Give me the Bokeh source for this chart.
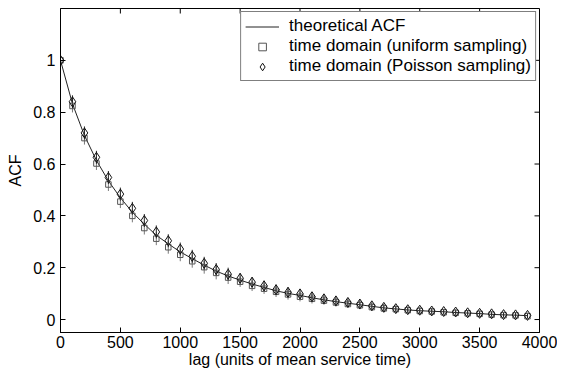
import math
from bokeh.plotting import figure
from bokeh.models import FixedTicker, Legend, LegendItem, ColumnDataSource
from bokeh.embed import file_html
from bokeh.resources import INLINE

# ---- data ----
lags = [0, 100, 200, 300, 400, 500, 600, 700, 800, 900,
        1000, 1100, 1200, 1300, 1400, 1500, 1600, 1700, 1800, 1900,
        2000, 2100, 2200, 2300, 2400, 2500, 2600, 2700, 2800, 2900,
        3000, 3100, 3200, 3300, 3400, 3500, 3600, 3700, 3800, 3900]

acf_theory = [1.0, 0.832, 0.71, 0.614, 0.535, 0.47, 0.414, 0.368, 0.325, 0.292,
              0.261, 0.235, 0.21, 0.187, 0.168, 0.152, 0.137, 0.124, 0.111, 0.101,
              0.093, 0.084, 0.076, 0.069, 0.063, 0.057, 0.051, 0.045, 0.041, 0.037,
              0.034, 0.032, 0.030, 0.027, 0.025, 0.023, 0.020, 0.018, 0.017, 0.015]

acf_uniform = [1.0, 0.824, 0.70, 0.602, 0.521, 0.455, 0.40, 0.353, 0.312, 0.279,
               0.250, 0.225, 0.202, 0.180, 0.162, 0.146, 0.130, 0.119, 0.107, 0.097,
               0.088, 0.080, 0.073, 0.066, 0.060, 0.055, 0.048, 0.043, 0.040, 0.036,
               0.033, 0.031, 0.028, 0.026, 0.024, 0.022, 0.019, 0.017, 0.016, 0.013]

acf_poisson = [1.0, 0.84, 0.72, 0.626, 0.548, 0.484, 0.429, 0.382, 0.338, 0.304,
               0.272, 0.244, 0.217, 0.193, 0.175, 0.159, 0.144, 0.130, 0.115, 0.105,
               0.099, 0.088, 0.080, 0.072, 0.066, 0.060, 0.053, 0.047, 0.042, 0.038,
               0.036, 0.033, 0.031, 0.029, 0.026, 0.024, 0.022, 0.019, 0.018, 0.016]

err_uniform = [0.0, 0.025, 0.025, 0.025, 0.025, 0.025, 0.025, 0.025, 0.025, 0.025,
               0.025, 0.025, 0.025, 0.025, 0.025, 0.02, 0.02, 0.02, 0.02, 0.02,
               0.018, 0.018, 0.016, 0.016, 0.015, 0.015, 0.013, 0.013, 0.012, 0.012,
               0.011, 0.011, 0.01, 0.01, 0.01, 0.01, 0.01, 0.01, 0.01, 0.01]

err_poisson = [0.0, 0.025, 0.025, 0.025, 0.025, 0.025, 0.025, 0.025, 0.025, 0.025,
               0.025, 0.025, 0.025, 0.025, 0.025, 0.02, 0.02, 0.02, 0.02, 0.02,
               0.018, 0.018, 0.016, 0.016, 0.015, 0.015, 0.013, 0.013, 0.012, 0.012,
               0.011, 0.011, 0.01, 0.01, 0.01, 0.01, 0.01, 0.01, 0.01, 0.01]

x_min, x_max = 0, 4000
y_min, y_max = -0.05, 1.2
x_ticks = [0, 500, 1000, 1500, 2000, 2500, 3000, 3500, 4000]
y_ticks = [0, 0.2, 0.4, 0.6, 0.8, 1]
y_labels = {0: "0", 0.2: "0.2", 0.4: "0.4", 0.6: "0.6", 0.8: "0.8", 1: "1"}

series_names = ["theoretical ACF",
                "time domain (uniform sampling)",
                "time domain (Poisson sampling)"]

FONT = "Liberation Sans"

src = ColumnDataSource(dict(
    lag=lags, th=acf_theory, un=acf_uniform, po=acf_poisson,
    un_lo=[v - e for v, e in zip(acf_uniform, err_uniform)],
    un_hi=[v + e for v, e in zip(acf_uniform, err_uniform)],
    po_lo=[v - e for v, e in zip(acf_poisson, err_poisson)],
    po_hi=[v + e for v, e in zip(acf_poisson, err_poisson)],
))

p = figure(width=557, height=370, x_range=(x_min, x_max), y_range=(y_min, y_max),
           output_backend="svg", toolbar_location=None,
           min_border_left=60, min_border_right=18, min_border_top=8,
           min_border_bottom=30)
p.background_fill_color = "white"
p.border_fill_color = "white"
p.outline_line_color = "black"
p.outline_line_width = 1
p.xgrid.visible = False
p.ygrid.visible = False

for ax in (p.xaxis[0], p.yaxis[0]):
    ax.major_tick_in = 5
    ax.major_tick_out = 0
    ax.minor_tick_line_color = None
    ax.axis_line_color = "black"
    ax.major_tick_line_color = "black"
    ax.major_label_text_font = FONT
    ax.major_label_text_font_size = "16px"
    ax.major_label_text_color = "black"
    ax.axis_label_text_font = FONT
    ax.axis_label_text_font_size = "16px"
    ax.axis_label_text_font_style = "normal"
    ax.axis_label_text_color = "black"

p.xaxis[0].ticker = FixedTicker(ticks=x_ticks)
p.yaxis[0].ticker = FixedTicker(ticks=y_ticks)
p.yaxis[0].major_label_overrides = y_labels
p.xaxis[0].axis_label = "lag (units of mean service time)"
p.yaxis[0].axis_label = "ACF"
p.xaxis[0].major_label_standoff = 3
p.xaxis[0].axis_label_standoff = 0
p.yaxis[0].major_label_standoff = 5
p.yaxis[0].axis_label_standoff = 6

# mirrored inward ticks on the top and right edges
p.ray(x=x_ticks, y=[y_max] * len(x_ticks), length=5, length_units="screen",
      angle=-math.pi / 2, line_color="black", line_width=1)
p.ray(x=[x_max] * len(y_ticks), y=y_ticks, length=5, length_units="screen",
      angle=math.pi, line_color="black", line_width=1)

# theoretical line
l_th = p.line("lag", "th", source=src, line_color="#222222", line_width=1)

# error bars
p.segment(x0="lag", y0="un_lo", x1="lag", y1="un_hi", source=src,
          line_color="#777777", line_width=1)
p.segment(x0="lag", y0="po_lo", x1="lag", y1="po_hi", source=src,
          line_color="#222222", line_width=1)

# markers
s_un = p.scatter("lag", "un", source=src, marker="square", size=5.5,
                 fill_color=None, line_color="#555555", line_width=1)
s_po = p.scatter("lag", "po", source=src, marker="diamond", size=10,
                 fill_color=None, line_color="#111111", line_width=1)

legend = Legend(items=[
    LegendItem(label=series_names[0], renderers=[l_th]),
    LegendItem(label=series_names[1], renderers=[s_un]),
    LegendItem(label=series_names[2], renderers=[s_po]),
], location="top_right")
legend.margin = 3
legend.padding = 4
legend.spacing = 0
legend.label_height = 19
legend.glyph_height = 19
legend.glyph_width = 34
legend.label_standoff = 10
legend.label_text_font = FONT
legend.label_text_font_size = "17px"
legend.label_text_color = "black"
legend.border_line_color = "black"
legend.border_line_width = 1
legend.background_fill_color = "white"
legend.background_fill_alpha = 1
p.add_layout(legend)

open("out.html", "w").write(file_html(p, INLINE))
